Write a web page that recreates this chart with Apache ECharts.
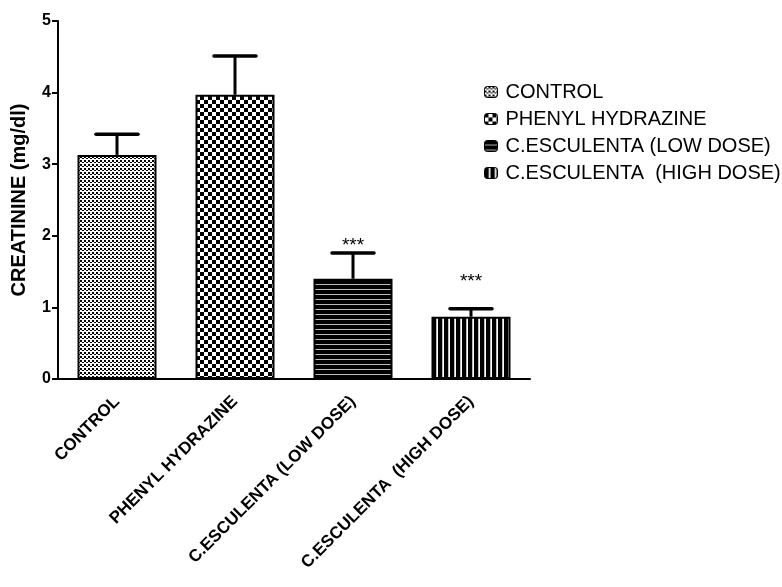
<!DOCTYPE html>
<html><head><meta charset="utf-8">
<script src="https://cdn.jsdelivr.net/npm/echarts@6/dist/echarts.min.js"></script>
<style>html,body{margin:0;padding:0;background:#fff}#c{width:782px;height:587px}</style>
</head><body><div id="c"></div>
<script>
var categories = ['CONTROL', 'PHENYL HYDRAZINE', 'C.ESCULENTA (LOW DOSE)', 'C.ESCULENTA  (HIGH DOSE)'];
var means = [3.13, 3.97, 1.40, 0.87];
var errors = [0.29, 0.54, 0.36, 0.11];
var starText = ['', '', '***', '***'];
var starLevel = [null, null, 1.86, 1.36];
var yTicks = [0, 1, 2, 3, 4, 5];

function makeTile(w, h, draw) {
  var c = document.createElement('canvas'); c.width = w; c.height = h;
  var g = c.getContext('2d'); g.fillStyle = '#fff'; g.fillRect(0, 0, w, h);
  g.fillStyle = '#000'; draw(g); return c;
}
var patterns = [
  makeTile(4, 4, function (g) { g.fillRect(0, 0, 2, 2); g.fillRect(2, 2, 2, 1); }),
  makeTile(8, 8, function (g) { g.fillRect(0, 0, 4, 4); g.fillRect(4, 4, 4, 4); }),
  makeTile(5, 5, function (g) { g.fillRect(0, 0, 5, 4); g.fillStyle = '#bbb'; g.fillRect(0, 4, 5, 1); }),
  makeTile(6, 6, function (g) { g.fillRect(0, 0, 4, 6); g.fillStyle = '#bbb'; g.fillRect(4, 0, 1, 6); })
];

var FONT = 'Liberation Sans, Arial';
var chart = echarts.init(document.getElementById('c'), null, {renderer: 'canvas'});
var series = categories.map(function (name, i) {
  return {
    name: name, type: 'bar', barWidth: 79, barGap: '-100%',
    data: categories.map(function (c, j) { return j === i ? means[i] : '-'; }),
    itemStyle: {color: {image: patterns[i], repeat: 'repeat'}, borderColor: '#000', borderWidth: 2},
    emphasis: {disabled: true}
  };
});
series.push({
  type: 'custom', name: 'err', silent: true,
  data: means.map(function (m, i) { return [i, m, errors[i], starLevel[i], starText[i]]; }),
  renderItem: function (params, api) {
    var i = api.value(0), m = api.value(1), e = api.value(2);
    var p0 = api.coord([i, m]), p1 = api.coord([i, m + e]);
    var hw = 21;
    var children = [
      {type: 'line', shape: {x1: p0[0], y1: p0[1], x2: p1[0], y2: p1[1]}, style: {stroke: '#000', lineWidth: 3}},
      {type: 'line', shape: {x1: p1[0] - hw, y1: p1[1], x2: p1[0] + hw, y2: p1[1]}, style: {stroke: '#000', lineWidth: 3.5, lineCap: 'round'}}
    ];
    var s = starText[params.dataIndex];
    if (s) {
      var ps = api.coord([i, starLevel[params.dataIndex]]);
      children.push({type: 'text', style: {text: s, x: ps[0], y: ps[1], align: 'center', verticalAlign: 'middle', font: '19px "Liberation Sans", Arial', fill: '#000'}});
    }
    return {type: 'group', children: children};
  },
  z: 5
});

chart.setOption({
  animation: false,
  grid: {left: 58, top: 21, right: 252, bottom: 208},
  legend: {
    orient: 'vertical', left: 479, top: 77, itemWidth: 13, itemHeight: 11, itemGap: 7,
    data: categories, textStyle: {fontFamily: FONT, fontSize: 20, color: '#000', padding: [0, 0, 0, 3]},
    itemStyle: {borderWidth: 1, borderColor: '#000'}
  },
  xAxis: {
    type: 'category', data: categories,
    axisLine: {lineStyle: {color: '#000', width: 2}},
    axisTick: {alignWithLabel: true, length: 6, lineStyle: {width: 2, color: '#000'}},
    axisLabel: {interval: 0, rotate: 45, margin: 20, fontFamily: FONT, fontWeight: 'bold', fontSize: 17, color: '#000'}
  },
  yAxis: {
    type: 'value', min: 0, max: 5, interval: 1, splitLine: {show: false},
    name: 'CREATININE (mg/dl)', nameLocation: 'middle', nameGap: 29,
    nameTextStyle: {fontFamily: FONT, fontWeight: 'bold', fontSize: 20, color: '#000'},
    axisLine: {show: true, lineStyle: {color: '#000', width: 2}},
    axisTick: {show: true, length: 6, lineStyle: {width: 2, color: '#000'}},
    axisLabel: {margin: 7, fontFamily: FONT, fontWeight: 'bold', fontSize: 16, color: '#000',
      formatter: function (v) { return yTicks.indexOf(v) >= 0 ? String(v) : ''; }}
  },
  series: series
});
</script></body></html>
